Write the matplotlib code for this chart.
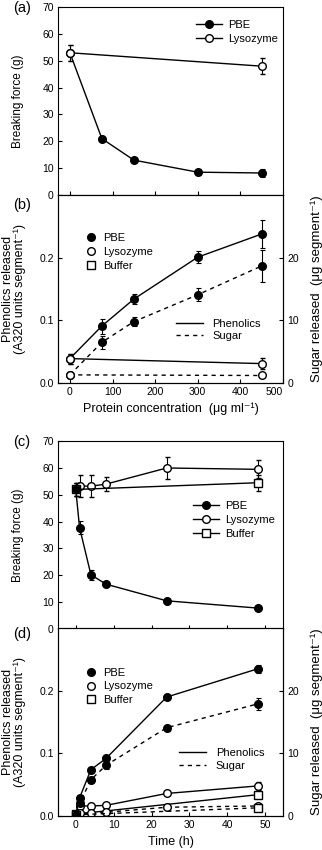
import matplotlib
matplotlib.use("Agg")
import matplotlib.pyplot as plt
from matplotlib.lines import Line2D

plt.rcParams['font.family'] = ['Liberation Sans', 'DejaVu Sans']
plt.rcParams['font.size'] = 8
plt.rcParams['axes.linewidth'] = 0.8
plt.rcParams['xtick.direction'] = 'in'
plt.rcParams['ytick.direction'] = 'in'

# =========================
# Panel (a): breaking force vs protein concentration
# =========================
conc_pbe = [0, 75, 150, 300, 450]
force_pbe = [53, 21, 13, 8.5, 8.2]
force_pbe_err = [3, 0.6, 0.6, 1.0, 1.5]
conc_lys = [0, 450]
force_lys = [53, 48]
force_lys_err = [3, 3]

# =========================
# Panel (b): phenolics / sugar vs protein concentration
# =========================
phen_pbe = [0.039, 0.091, 0.134, 0.201, 0.238]
phen_pbe_err = [0.008, 0.012, 0.008, 0.010, 0.022]
sug_pbe = [1.3, 6.5, 9.8, 14.1, 18.7]
sug_pbe_err = [0.3, 1.0, 0.7, 1.0, 2.6]
phen_lys = [0.039, 0.031]
phen_lys_err = [0.008, 0.009]
sug_lys = [1.3, 1.2]
sug_lys_err = [0.2, 0.2]

# =========================
# Panel (c): breaking force vs time
# =========================
time_all = [0, 1, 4, 8, 24, 48]
force_pbe_t = [52, 37.8, 20.2, 16.7, 10.5, 7.8]
force_pbe_t_err = [2.5, 2.5, 1.8, 0.6, 0.8, 0.5]
force_lys_t = [52, 53.3, 53.2, 54, 60, 59.5]
force_lys_t_err = [2.5, 4, 4, 2.5, 4, 3.3]
time_buf = [0, 48]
force_buf_t = [52, 54.5]
force_buf_t_err = [2.5, 3]

# =========================
# Panel (d): phenolics / sugar vs time
# =========================
phen_pbe_t = [0.003, 0.029, 0.074, 0.092, 0.190, 0.235]
phen_pbe_t_err = [0.001, 0.004, 0.003, 0.004, 0.003, 0.006]
sug_pbe_t = [0.2, 2.0, 5.8, 8.1, 14.1, 17.9]
sug_pbe_t_err = [0.1, 0.4, 0.4, 0.6, 0.5, 1.0]
phen_lys_t = [0.003, 0.016, 0.016, 0.017, 0.036, 0.048]
phen_lys_t_err = [0.001, 0.002, 0.002, 0.002, 0.002, 0.006]
sug_lys_t = [0.2, 0.5, 0.4, 0.6, 1.4, 1.6]
sug_lys_t_err = [0.1, 0.2, 0.2, 0.2, 0.2, 0.3]
phen_buf_t = [0.003, 0.034]
phen_buf_t_err = [0.001, 0.004]
sug_buf_t = [0.2, 1.3]
sug_buf_t_err = [0.1, 0.3]

fig = plt.figure(figsize=(3.22, 8.5), dpi=100)
L, W, H = 0.180, 0.699, 0.221
ax_a = fig.add_axes([L, 0.7706, W, H])
ax_b = fig.add_axes([L, 0.5494, W, H])
ax_c = fig.add_axes([L, 0.2600, W, H])
ax_d = fig.add_axes([L, 0.0400, W, H])

ms = 5.5
eb = dict(color='black', lw=1.0, capsize=1.8, elinewidth=0.8, capthick=0.8, mec='black')
filled = dict(marker='o', ms=ms, mfc='black', **eb)
opencirc = dict(marker='o', ms=ms, mfc='white', mew=1.0, **eb)
opensq = dict(marker='s', ms=ms, mfc='white', mew=1.0, **eb)
dash = (0, (3, 3))

lab_fs = 9
leg_fs = 8

# legend handles
line_mk = [
    Line2D([], [], color='black', lw=1.0, marker='o', ms=ms, mfc='black', mec='black'),
    Line2D([], [], color='black', lw=1.0, marker='o', ms=ms, mfc='white', mec='black'),
    Line2D([], [], color='black', lw=1.0, marker='s', ms=ms, mfc='white', mec='black'),
]
mk_only = [
    Line2D([], [], ls='none', marker='o', ms=ms, mfc='black', mec='black'),
    Line2D([], [], ls='none', marker='o', ms=ms, mfc='white', mec='black'),
    Line2D([], [], ls='none', marker='s', ms=ms, mfc='white', mec='black'),
]
ln_only = [
    Line2D([], [], color='black', lw=1.0),
    Line2D([], [], color='black', lw=1.0, ls=dash),
]
names = ['PBE', 'Lysozyme', 'Buffer']
leg_kw = dict(frameon=False, fontsize=leg_fs, loc='upper left', borderpad=0,
              borderaxespad=0, labelspacing=0.35)

# ---- (a)
ax_a.errorbar(conc_pbe, force_pbe, yerr=force_pbe_err, **filled)
ax_a.errorbar(conc_lys, force_lys, yerr=force_lys_err, zorder=3, **opencirc)
ax_a.set_xlim(-28, 500)
ax_a.set_ylim(0, 70)
ax_a.set_xticks([0, 100, 200, 300, 400, 500])
ax_a.set_xticklabels([])
ax_a.set_yticks(range(0, 71, 10))
ax_a.set_ylabel('Breaking force (g)', fontsize=8.5)
ax_a.legend(line_mk[:2], names[:2], bbox_to_anchor=(0.615, 0.93),
            handlelength=2.3, handletextpad=0.6, **leg_kw)

# ---- (b)
ax_b2 = ax_b.twinx()
ax_b.errorbar(conc_pbe, phen_pbe, yerr=phen_pbe_err, **filled)
ax_b2.errorbar(conc_pbe, sug_pbe, yerr=sug_pbe_err, ls=dash, **filled)
ax_b.errorbar(conc_lys, phen_lys, yerr=phen_lys_err, zorder=4, **opencirc)
ax_b2.errorbar(conc_lys, sug_lys, yerr=sug_lys_err, ls=dash, zorder=4, **opencirc)
ax_b.set_xlim(-28, 500)
ax_b.set_ylim(0, 0.3)
ax_b2.set_ylim(0, 30)
ax_b.set_xticks([0, 100, 200, 300, 400, 500])
ax_b.set_yticks([0.0, 0.1, 0.2])
ax_b2.set_yticks([0, 10, 20])
ax_b.set_xlabel('Protein concentration  (μg ml⁻¹)', fontsize=lab_fs)
ax_b.set_ylabel('Phenolics released\n(A320 units segment⁻¹)', fontsize=lab_fs, linespacing=1.0)
ax_b2.set_ylabel('Sugar released  (μg segment⁻¹)', fontsize=lab_fs + 0.5)

leg1 = ax_b2.legend(mk_only, names, bbox_to_anchor=(0.122, 0.80),
                    handlelength=1.0, handletextpad=0.6, **leg_kw)
ax_b2.add_artist(leg1)
ax_b2.legend(ln_only, ['Phenolics', 'Sugar'], bbox_to_anchor=(0.524, 0.34),
             handlelength=2.4, handletextpad=0.9, **{**leg_kw, 'labelspacing': 0.2})

# ---- (c)
ax_c.errorbar(time_all, force_pbe_t, yerr=force_pbe_t_err, zorder=3, **filled)
ax_c.errorbar(time_all, force_lys_t, yerr=force_lys_t_err, zorder=2, **opencirc)
ax_c.errorbar(time_buf, force_buf_t, yerr=force_buf_t_err, zorder=2, **opensq)
ax_c.set_xlim(-4.7, 54.7)
ax_c.set_ylim(0, 70)
ax_c.set_xticks([0, 10, 20, 30, 40, 50])
ax_c.set_xticklabels([])
ax_c.set_yticks(range(0, 71, 10))
ax_c.set_ylabel('Breaking force (g)', fontsize=8.5)
ax_c.legend(line_mk, names, bbox_to_anchor=(0.60, 0.68),
            handlelength=2.3, handletextpad=0.6, **leg_kw)

# ---- (d)
ax_d2 = ax_d.twinx()
ax_d.errorbar(time_all, phen_pbe_t, yerr=phen_pbe_t_err, zorder=3, **filled)
ax_d2.errorbar(time_all, sug_pbe_t, yerr=sug_pbe_t_err, ls=dash, zorder=3, **filled)
ax_d.errorbar(time_all, phen_lys_t, yerr=phen_lys_t_err, zorder=2, **opencirc)
ax_d2.errorbar(time_all, sug_lys_t, yerr=sug_lys_t_err, ls=dash, zorder=2, **opencirc)
ax_d.errorbar(time_buf, phen_buf_t, yerr=phen_buf_t_err, zorder=2, **opensq)
ax_d2.errorbar(time_buf, sug_buf_t, yerr=sug_buf_t_err, ls=dash, zorder=2, **opensq)
ax_d.set_xlim(-4.7, 54.7)
ax_d.set_ylim(0, 0.3)
ax_d2.set_ylim(0, 30)
ax_d.set_xticks([0, 10, 20, 30, 40, 50])
ax_d.set_yticks([0.0, 0.1, 0.2])
ax_d2.set_yticks([0, 10, 20])
ax_d.set_xlabel('Time (h)', fontsize=lab_fs)
ax_d.set_ylabel('Phenolics released\n(A320 units segment⁻¹)', fontsize=lab_fs, linespacing=1.0)
ax_d2.set_ylabel('Sugar released  (μg segment⁻¹)', fontsize=lab_fs + 0.5)
leg2 = ax_d2.legend(mk_only, names, bbox_to_anchor=(0.122, 0.79),
                    handlelength=1.0, handletextpad=0.6, **leg_kw)
ax_d2.add_artist(leg2)
ax_d2.legend(ln_only, ['Phenolics', 'Sugar'], bbox_to_anchor=(0.538, 0.36),
             handlelength=2.4, handletextpad=0.9, **{**leg_kw, 'labelspacing': 0.2})

for ax in [ax_a, ax_b, ax_c, ax_d, ax_b2, ax_d2]:
    ax.tick_params(length=3, width=0.8, labelsize=7.5, pad=3)

# last x tick label of (b) sits left of its tick, as in the original
ax_b.get_xticklabels()[-1].set_horizontalalignment('right')

for ax in [ax_a, ax_c]:
    ax.yaxis.set_label_coords(-0.15, 0.5)
for ax in [ax_b, ax_d]:
    ax.yaxis.set_label_coords(-0.14, 0.5)
for ax in [ax_b2, ax_d2]:
    ax.yaxis.set_label_coords(1.12, 0.5)

for lab, ypix in [('(a)', 8), ('(b)', 205), ('(c)', 442), ('(d)', 634)]:
    fig.text(0.04, 1 - ypix / 850, lab, fontsize=10.5, va='center', ha='left')

fig.savefig('out.png', dpi=100)
